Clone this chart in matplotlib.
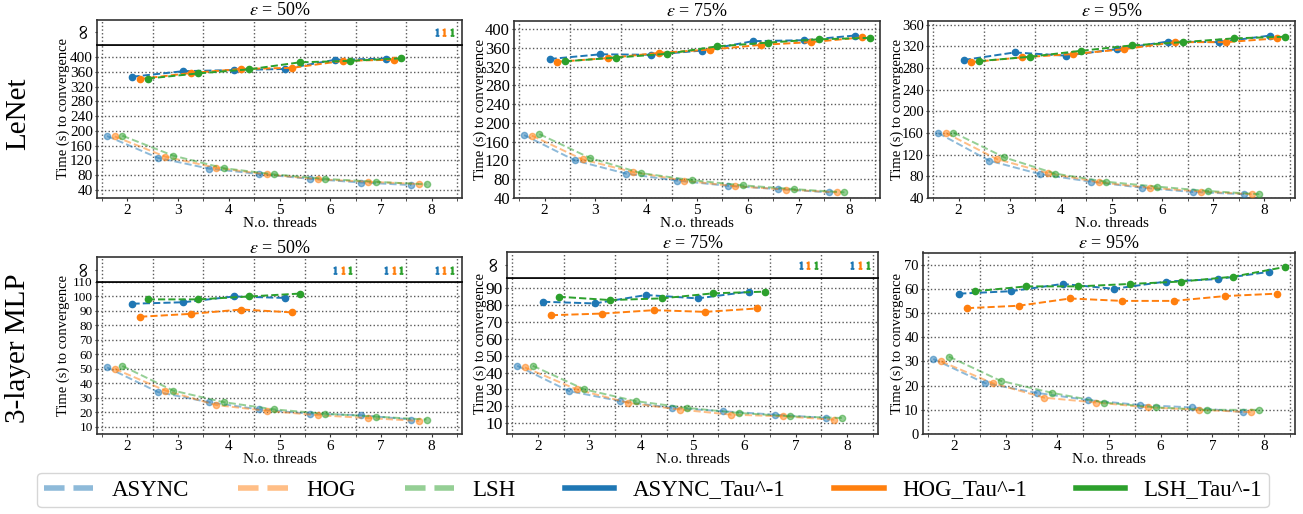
import numpy as np
import matplotlib
matplotlib.use("Agg")
import matplotlib.pyplot as plt
from matplotlib.lines import Line2D

plt.rcParams['font.family'] = ['Liberation Serif', 'DejaVu Serif']
plt.rcParams['mathtext.fontset'] = 'stix'

INF = np.inf
threads = [2, 3, 4, 5, 6, 7, 8]
series_names = ["ASYNC", "HOG", "LSH", "ASYNC_Tau^-1", "HOG_Tau^-1", "LSH_Tau^-1"]
row_labels = ["LeNet", "3-layer MLP"]
eps_labels = ["50%", "75%", "95%"]

# ---- LeNet ----
lenet50_async = [186, 127, 98, 83, 70, 60, 53]
lenet50_hog = [185, 130, 100, 82, 69, 62, 56]
lenet50_lsh = [187, 133, 99, 82, 70, 62, 55]
lenet50_async_tau = [347, 362, 365, 368, 393, 396, INF]
lenet50_hog_tau = [341, 357, 368, 371, 390, 393, INF]
lenet50_lsh_tau = [342, 356, 367, 386, 390, 397, INF]

lenet75_async = [174, 120, 92, 77, 66, 59, 52]
lenet75_hog = [173, 122, 95, 77, 65, 58, 52]
lenet75_lsh = [176, 125, 93, 78, 67, 59, 52]
lenet75_async_tau = [336, 346, 345, 354, 374, 376, 386]
lenet75_hog_tau = [330, 338, 349, 356, 366, 372, 382]
lenet75_lsh_tau = [331, 339, 347, 363, 371, 378, 381]

lenet95_async = [160, 109, 84, 70, 59, 51, 47]
lenet95_hog = [160, 112, 86, 69, 59, 52, 47]
lenet95_lsh = [161, 115, 85, 70, 61, 53, 47]
lenet95_async_tau = [295, 309, 303, 315, 329, 328, 340]
lenet95_hog_tau = [291, 300, 306, 315, 328, 328, 335]
lenet95_lsh_tau = [293, 301, 312, 322, 328, 335, 338]

# ---- 3-layer MLP ----
mlp50_async = [51, 34, 27, 22, 19, 18, 15]
mlp50_hog = [50, 35, 25, 21, 18, 16, 14]
mlp50_lsh = [52, 35, 27, 22, 19, 17, 15]
mlp50_async_tau = [95, 96, 100, 99, INF, INF, INF]
mlp50_hog_tau = [86, 88, 91, 89, INF, INF, INF]
mlp50_lsh_tau = [98, 98, 100, 102, INF, INF, INF]

mlp75_async = [44, 29, 23, 19, 17, 15, 13]
mlp75_hog = [43, 30, 22, 18, 15, 14, 12]
mlp75_lsh = [44, 30, 23, 19, 16, 14, 13]
mlp75_async_tau = [82, 81, 86, 84, 88, INF, INF]
mlp75_hog_tau = [74, 75, 77, 76, 78, INF, INF]
mlp75_lsh_tau = [85, 83, 84, 87, 88, INF, INF]

mlp95_async = [31, 21, 17, 14, 12, 11, 9]
mlp95_hog = [30, 21, 15, 13, 11, 10, 9]
mlp95_lsh = [32, 22, 17, 13, 11, 10, 10]
mlp95_async_tau = [58, 59, 62, 60, 63, 64, 67]
mlp95_hog_tau = [52, 53, 56, 55, 55, 57, 58]
mlp95_lsh_tau = [59, 61, 61, 62, 63, 65, 69]

panel_data = [
    [lenet50_async, lenet50_hog, lenet50_lsh, lenet50_async_tau, lenet50_hog_tau, lenet50_lsh_tau],
    [lenet75_async, lenet75_hog, lenet75_lsh, lenet75_async_tau, lenet75_hog_tau, lenet75_lsh_tau],
    [lenet95_async, lenet95_hog, lenet95_lsh, lenet95_async_tau, lenet95_hog_tau, lenet95_lsh_tau],
    [mlp50_async, mlp50_hog, mlp50_lsh, mlp50_async_tau, mlp50_hog_tau, mlp50_lsh_tau],
    [mlp75_async, mlp75_hog, mlp75_lsh, mlp75_async_tau, mlp75_hog_tau, mlp75_lsh_tau],
    [mlp95_async, mlp95_hog, mlp95_lsh, mlp95_async_tau, mlp95_hog_tau, mlp95_lsh_tau],
]

# ---- layout (pixels) ----
W, H = 1303, 514
offsets = [-0.4, -0.25, -0.1, 0.1, 0.25, 0.4]
colors = ['#1f77b4', '#ff7f0e', '#2ca02c'] * 2
light = [True, True, True, False, False, False]

# (left, right, top, sep, bottom) ; sep None -> no infinity panel
boxes = [
    (97, 462, 19.5, 45, 198),
    (514, 880, 20.5, None, 198),
    (928, 1295, 20.5, None, 198),
    (97, 462, 257, 282, 434),
    (507, 878, 252, 278, 434),
    (923, 1295, 252.5, None, 434),
]
ylims = [(18, 433), (40, 418), (40, 368), (5, 110), (3.5, 96.1), (0, 75)]
yticks = [np.arange(40, 401, 40), np.arange(40, 401, 40), np.arange(40, 361, 40),
          np.arange(10, 111, 10), np.arange(10, 91, 10), np.arange(0, 71, 10)]
ytick_fs = [11, 12, 10.5, 9.5, 12.5, 10.5]
ylabel_x = [63, 480, 897, 63, 480, 897]

SPINE = '0.2'
GRID = dict(color='0.35', linestyle=':', linewidth=1.0)


def frac(l, t, r, b):
    return [l / W, 1 - b / H, (r - l) / W, (b - t) / H]


fig = plt.figure(figsize=(W / 100, H / 100), dpi=100)

for i, (data, box) in enumerate(zip(panel_data, boxes)):
    l, r, t, sep, b = box
    main_top = sep if sep is not None else t
    ax = fig.add_axes(frac(l, main_top, r, b))
    ax_inf = None
    if sep is not None:
        ax_inf = fig.add_axes(frac(l, t, r, sep), sharex=ax)
    for vals, off, c, lt in zip(data, offsets, colors, light):
        x = np.array(threads, float) + off
        v = np.array(vals, float)
        fin = np.isfinite(v)
        ax.plot(x[fin], v[fin], ls='--', marker='o', color=c,
                alpha=0.5 if lt else 1.0, lw=1.4, ms=4.5, zorder=3)
        if ax_inf is not None and (~fin).any():
            ax_inf.plot(x[~fin], np.full((~fin).sum(), 0.5), ls='none',
                        marker='$1$', color=c, ms=5, zorder=3)
    ax.set_xlim(1.4, 8.6)
    ax.set_ylim(*ylims[i])
    ax.set_yticks(yticks[i])
    ax.set_xticks(threads)
    ax.set_xticks(np.arange(1.5, 8.6, 1.0), minor=True)
    ax.grid(True, axis='x', which='minor', **GRID)
    ax.grid(True, axis='y', which='major', **GRID)
    ax.tick_params(axis='y', which='major', labelsize=ytick_fs[i], length=1.5,
                   pad=1.5, color=SPINE)
    ax.tick_params(axis='x', which='major', labelsize=11, length=2, pad=2,
                   color=SPINE)
    ax.tick_params(axis='x', which='minor', length=2, color=SPINE)
    ax.set_xlabel("N.o. threads", fontsize=11, labelpad=0.5)
    for s in ax.spines.values():
        s.set_color(SPINE)
        s.set_linewidth(1.2)
    top_ax = ax
    if ax_inf is not None:
        ax_inf.set_ylim(0, 1)
        ax_inf.set_yticks([0.5])
        ax_inf.set_yticklabels([r'$\infty$'], rotation=90, va='center')
        ax_inf.tick_params(axis='y', labelsize=12, length=1.5, pad=2, color=SPINE)
        ax_inf.tick_params(axis='x', which='both', bottom=False,
                           labelbottom=False)
        ax_inf.grid(True, axis='x', which='minor', **GRID)
        for s in ax_inf.spines.values():
            s.set_color(SPINE)
            s.set_linewidth(1.2)
        ax_inf.spines['bottom'].set_color('black')
        top_ax = ax_inf
    top_ax.set_title(r'$\epsilon$ = ' + eps_labels[i % 3], fontsize=13, pad=3)
    fig.text(ylabel_x[i] / W, 1 - ((t + b) / 2) / H, "Time (s) to convergence",
             rotation=90, ha='center', va='center', fontsize=10.5)

fig.text(18 / W, 1 - 114 / H, row_labels[0], rotation=90, ha='center',
         va='center', fontsize=21)
fig.text(18 / W, 1 - 348 / H, row_labels[1], rotation=90, ha='center',
         va='center', fontsize=21)

handles = []
for c, lt in zip(colors, light):
    if lt:
        handles.append(Line2D([], [], color=c, alpha=0.5, lw=4, ls='--'))
    else:
        handles.append(Line2D([], [], color=c, lw=4, ls='-'))
fig.legend(handles, series_names, loc='center', ncol=6,
           bbox_to_anchor=(653 / W, 1 - 490 / H), fontsize=16.5,
           handlelength=2.15, handletextpad=0.8, columnspacing=2.15,
           borderpad=0.3, frameon=True)

fig.savefig("out.png", dpi=100)
